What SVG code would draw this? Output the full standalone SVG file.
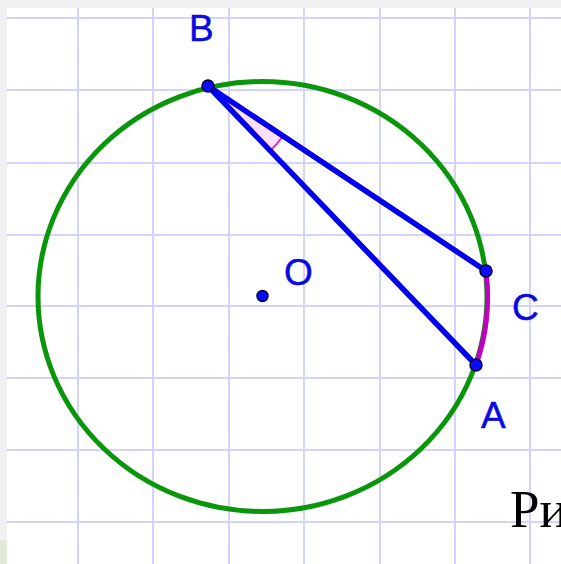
<svg xmlns="http://www.w3.org/2000/svg" width="561" height="564" viewBox="0 0 561 564">
<style>
.grid line{stroke:#d4d4fb;stroke-width:2}
.seg{stroke:#0000ee;stroke-width:5.5;stroke-linecap:round;fill:none}
.pt{fill:#0a0aff;stroke:#000033;stroke-width:1.5}
</style>
<rect x="0" y="0" width="561" height="564" fill="#f1f1f1"/>
<rect x="0" y="540" width="20" height="24" fill="#e4e8d6"/>
<rect x="7" y="8" width="554" height="556" fill="#ffffff"/>
<g class="grid" id="grid">
<line x1="78" y1="8" x2="78" y2="564"/>
<line x1="153" y1="8" x2="153" y2="564"/>
<line x1="229" y1="8" x2="229" y2="564"/>
<line x1="304" y1="8" x2="304" y2="564"/>
<line x1="380" y1="8" x2="380" y2="564"/>
<line x1="455" y1="8" x2="455" y2="564"/>
<line x1="530" y1="8" x2="530" y2="564"/>
<line x1="7" y1="18" x2="561" y2="18"/>
<line x1="7" y1="90" x2="561" y2="90"/>
<line x1="7" y1="163" x2="561" y2="163"/>
<line x1="7" y1="235" x2="561" y2="235"/>
<line x1="7" y1="306" x2="561" y2="306"/>
<line x1="7" y1="378" x2="561" y2="378"/>
<line x1="7" y1="450" x2="561" y2="450"/>
<line x1="7" y1="522" x2="561" y2="522"/>
</g>
<g id="circle">
<ellipse cx="262.5" cy="296.5" rx="224.5" ry="215" fill="none" stroke="#0a960a" stroke-width="5"/>
</g>
<g id="connectors">
<path d="M208,86 L283,136 A90,90 0 0,1 270,151 Z" fill="#ff99ee" fill-opacity="0.3" stroke="none"/>
<path d="M283,136 A90,90 0 0,1 270,151" fill="none" stroke="#cc33cc" stroke-width="2"/>
<path d="M486,271 A224.5,215 0 0,1 476,365" fill="none" stroke="#c000c0" stroke-width="5"/>
<line class="seg" x1="208" y1="86" x2="486" y2="271"/>
<line class="seg" x1="208" y1="86" x2="476" y2="365"/>
</g>
<g id="B"><circle class="pt" cx="208" cy="86" r="6"/><text x="189" y="41" font-family="Liberation Sans, Arial, sans-serif" font-size="37" fill="#0a0ae0" stroke="#0a0ae0" stroke-width="0.5">B</text></g>
<g id="C"><circle class="pt" cx="486" cy="271" r="6"/><text x="512" y="320" font-family="Liberation Sans, Arial, sans-serif" font-size="37" fill="#0a0ae0" stroke="#0a0ae0" stroke-width="0.5">C</text></g>
<g id="A"><circle class="pt" cx="476" cy="365" r="6"/><text x="481" y="428" font-family="Liberation Sans, Arial, sans-serif" font-size="37" fill="#0a0ae0" stroke="#0a0ae0" stroke-width="0.5">A</text></g>
<g id="O"><circle class="pt" cx="262.5" cy="296" r="5.5"/><text x="284" y="285" font-family="Liberation Sans, Arial, sans-serif" font-size="37" fill="#0a0ae0" stroke="#0a0ae0" stroke-width="0.5">O</text></g>
<text x="510" y="527" font-family="Liberation Serif, 'Times New Roman', serif" font-size="53" fill="#000000">Ри</text>
</svg>
